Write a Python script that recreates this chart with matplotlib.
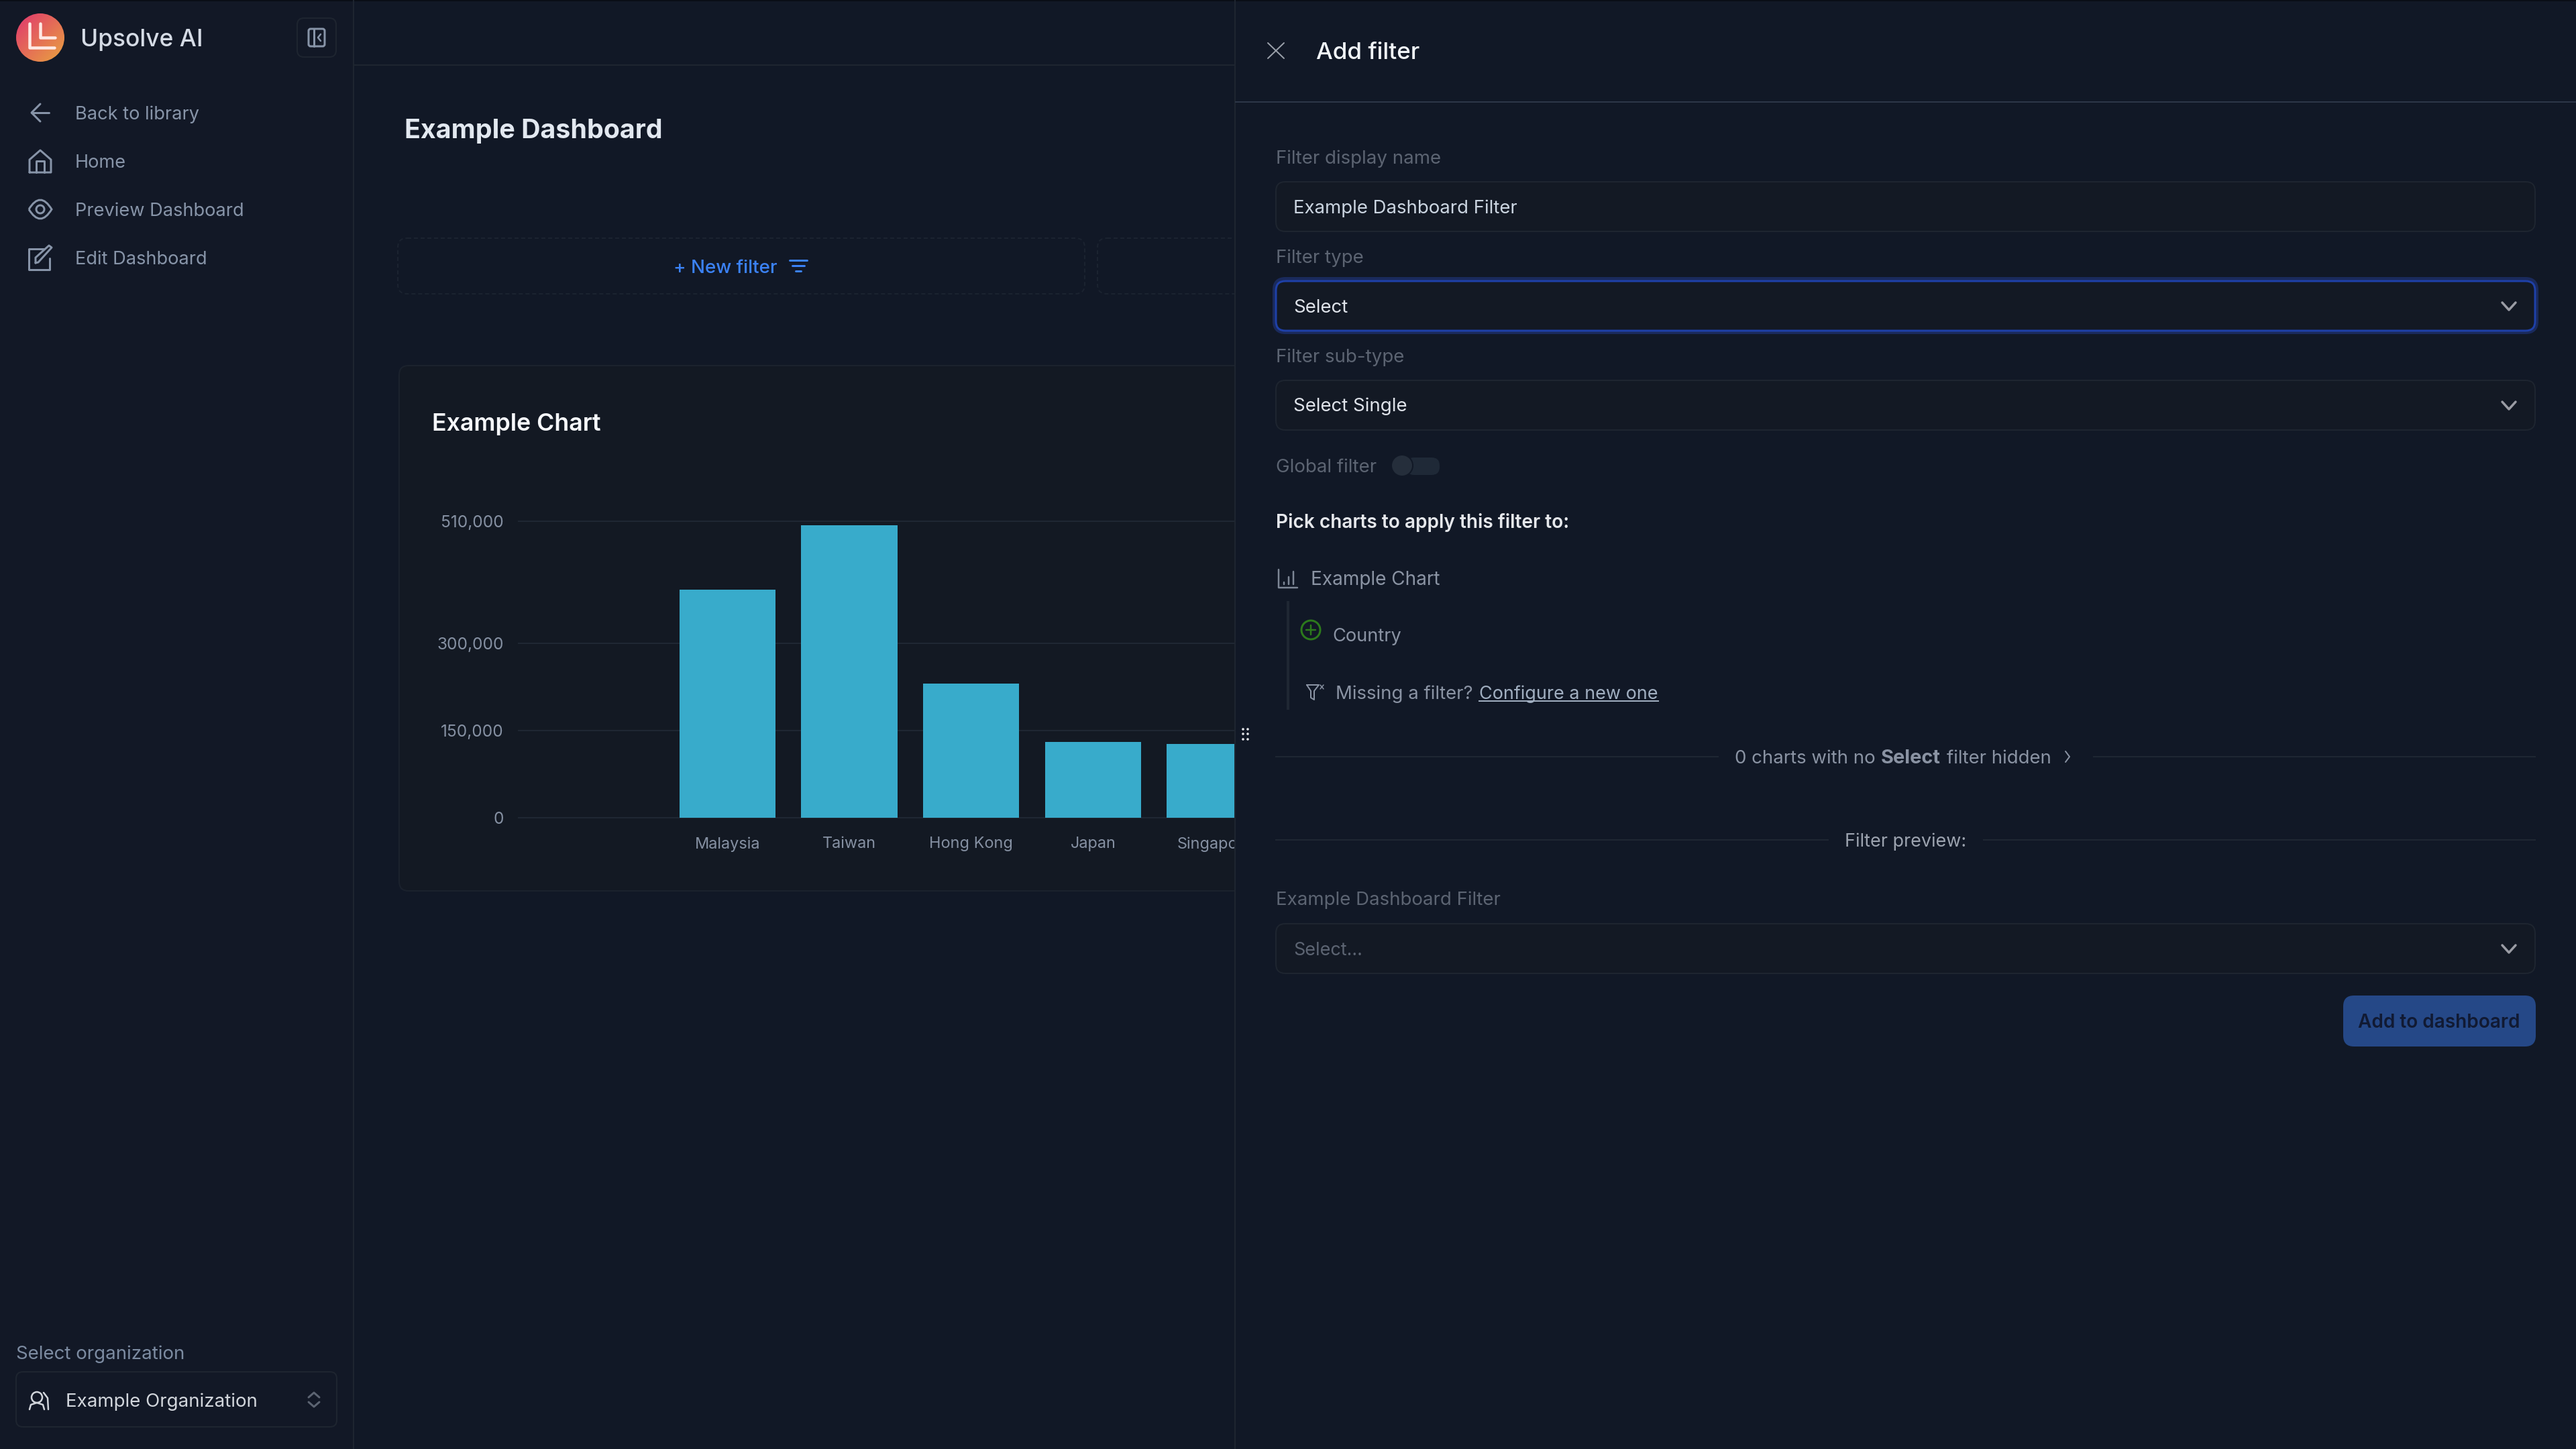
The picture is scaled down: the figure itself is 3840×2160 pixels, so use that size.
# dashboard screenshot with the add filter panel open
import numpy as np
import matplotlib
matplotlib.use("Agg")
import matplotlib.pyplot as plt
from matplotlib.colors import LinearSegmentedColormap
from matplotlib.patches import FancyBboxPatch, Circle, PathPatch
from matplotlib.path import Path

plt.rcParams['font.family'] = ['Inter', 'DejaVu Sans']

# chart data
countries = ['Malaysia', 'Taiwan', 'Hong Kong', 'Japan', 'Singapore']
values = [392000, 503000, 231000, 130000, 127000]
y_ticks = [0, 150000, 300000, 510000]

# text in the page
nav_items = ['Back to library', 'Home', 'Preview Dashboard', 'Edit Dashboard']
nav_rows = [168, 240, 312, 384]

W, H = 3840, 2160
PX = 0.72  # one output pixel in points at dpi 100

SIDEBAR = '#121826'
MAIN = '#111826'
CARD = '#131923'
FIELD = '#131924'
EDGE = '#1e2530'
BAR = '#38abcb'
LABEL = '#5c6472'
NAV = '#8794a8'

fig = plt.figure(figsize=(W / 100, H / 100), dpi=100, facecolor=MAIN)


def page_axes(z):
    ax = fig.add_axes([0, 0, 1, 1], zorder=z)
    ax.set_xlim(0, W)
    ax.set_ylim(H, 0)
    ax.axis('off')
    return ax


back = page_axes(0)
front = page_axes(2)


def txt(ax, x, y, s, px, color, weight='normal', ha='left'):
    return ax.text(x, y, s, fontsize=px * PX, color=color, fontweight=weight,
                   ha=ha, va='center_baseline')


def box(ax, x0, y0, x1, y1, r, fill='none', edge='none', lw=2.0, ls='solid'):
    p = FancyBboxPatch((x0, y0), x1 - x0, y1 - y0, boxstyle=f'round,pad=0,rounding_size={r}',
                       facecolor=fill, edgecolor=edge, linewidth=lw * PX, linestyle=ls)
    ax.add_patch(p)
    return p


def stroke(ax, xs, ys, color, lw=3.0):
    ax.plot(xs, ys, color=color, lw=lw * PX, solid_capstyle='round', solid_joinstyle='round')


def chevron(ax, x, y, color='#9a9ca4'):
    stroke(ax, [x - 10, x, x + 10], [y - 5, y + 6, y - 5], color, 3.5)


# page background
back.fill_between([0, 527], 0, H, color=SIDEBAR, lw=0)
back.fill_between([0, W], 0, 2, color='#0a0e16', lw=0)
back.plot([527, 527], [0, H], color='#1e2530', lw=2 * PX)
back.plot([527, 1840], [97, 97], color='#1e2530', lw=2 * PX)

# logo
grad = np.add.outer(np.linspace(0, 1, 80), np.linspace(0, 1, 80)) / 2
logo_cmap = LinearSegmentedColormap.from_list('logo', ['#e0366f', '#e9a43f'])
im = back.imshow(grad, cmap=logo_cmap, extent=[24, 96, 92, 20], aspect='auto', zorder=2)
im.set_clip_path(Circle((60, 56), 36, transform=back.transData))
back.set_xlim(0, W)
back.set_ylim(H, 0)
stroke(back, [44, 44, 81], [35, 71, 71], '#ffe9e4', 4.5)
stroke(back, [60, 60, 82], [35, 56, 56], '#ffe9e4', 4.5)
txt(back, 120, 56, 'Upsolve AI', 35.4, '#d5dbe5', 'medium')

# collapse button
box(back, 443, 27, 501, 85, 10, edge='#1e2530')
box(back, 460, 43, 484, 69, 3, edge=NAV, lw=3)
stroke(back, [468, 468], [43, 69], NAV, 3)
stroke(back, [478, 474, 478], [51, 56, 61], NAV, 2.5)

# nav
for label, row in zip(nav_items, nav_rows):
    txt(back, 112, row, label, 27.2, NAV)
stroke(back, [73, 47], [168, 168], NAV)
stroke(back, [60, 47, 60], [155, 168, 181], NAV)
stroke(back, [44, 44, 60, 76, 76, 44], [257, 238, 224, 238, 257, 257], NAV)
stroke(back, [54, 54, 66, 66], [257, 240, 240, 257], NAV)
eye = Path([(43, 312), (60, 284), (77, 312), (60, 340), (43, 312)],
           [Path.MOVETO, Path.CURVE3, Path.CURVE3, Path.CURVE3, Path.CURVE3])
back.add_patch(PathPatch(eye, facecolor='none', edgecolor=NAV, lw=3 * PX))
back.add_patch(Circle((60, 312), 6, facecolor='none', edgecolor=NAV, lw=3 * PX))
stroke(back, [65, 43, 43, 74, 74], [371, 371, 402, 402, 385], NAV)
stroke(back, [53, 53, 73, 77, 57, 53], [392, 384, 366, 369, 391, 392], NAV)

# organization picker
txt(back, 24, 2016, 'Select organization', 27.7, '#7c8ba1')
box(back, 24, 2045, 502, 2127, 10, edge='#1e2530')
back.add_patch(Circle((55, 2083), 8, facecolor='none', edgecolor='#d1d5db', lw=2.5 * PX))
stroke(back, [44, 46, 55, 64, 66], [2101, 2094, 2091, 2094, 2101], '#d1d5db', 2.5)
stroke(back, [65, 71, 72], [2076, 2084, 2101], '#d1d5db', 2.5)
txt(back, 98, 2087, 'Example Organization', 27.7, '#d1d5db')
stroke(back, [460, 468, 476], [2083, 2076, 2083], '#5c6472')
stroke(back, [460, 468, 476], [2090, 2097, 2090], '#5c6472')

# dashboard header
txt(back, 603, 191, 'Example Dashboard', 39.4, '#e2e8f0', 'bold')
box(back, 593, 355, 1617, 438, 14, edge='#1b2330', ls=(0, (3, 2)))
box(back, 1636, 355, 1900, 438, 14, edge='#1b2330', ls=(0, (3, 2)))
txt(back, 1004, 397, '+ New filter', 27.8, '#3b82f6', 'medium')
for half, y in zip([13, 9, 4], [388, 396, 404]):
    stroke(back, [1190 - half, 1190 + half], [y, y], '#3b82f6')

# card behind the chart
box(back, 595, 545, 1900, 1328, 14, fill=CARD, edge='#1b222d')
txt(back, 644, 629, 'Example Chart', 35.7, '#f6f8fb', 'semibold')

# the chart itself, the panel hides what runs past x=1840
ax = fig.add_axes([773 / W, 1 - 1219 / H, (1840 - 773) / W, (1219 - 777) / H], zorder=1)
ax.patch.set_visible(False)
x = np.arange(len(countries))
ax.bar(x, values, width=0.79, color=BAR, zorder=3)
ax.set_xlim(-1.715, 4.16)
ax.set_ylim(0, 510000)
ax.set_xticks(x, countries)
ax.set_yticks(y_ticks, [f'{v:,}' for v in y_ticks])
ax.tick_params(length=0)
ax.tick_params(axis='x', pad=20.5, labelsize=23.5 * PX, labelcolor='#8590a2')
ax.tick_params(axis='y', pad=16, labelsize=24.5 * PX, labelcolor='#8590a2')
ax.grid(axis='y', color='#1f2733', lw=2 * PX, zorder=1)
for line in ax.get_ygridlines():
    line.set_clip_on(False)
for sp in ax.spines.values():
    sp.set_visible(False)

# add filter panel
front.fill_between([1840, W], 0, H, color=MAIN, lw=0)
front.fill_between([1840, W], 0, 2, color='#0a0e16', lw=0)
front.plot([1841, 1841], [0, H], color='#1e2530', lw=2 * PX)
front.plot([1842, W], [152, 152], color='#2d3748', lw=2 * PX)
stroke(front, [1890, 1914], [64, 87], '#9aa0aa', 2)
stroke(front, [1914, 1890], [64, 87], '#9aa0aa', 2)
txt(front, 1962, 76, 'Add filter', 35, '#f1f5f9', 'medium')

txt(front, 1902, 234, 'Filter display name', 27.7, LABEL)
box(front, 1902, 271, 3779, 345, 14, fill=FIELD, edge=EDGE)
txt(front, 1928, 308, 'Example Dashboard Filter', 27.6, '#cbd5e1')

txt(front, 1902, 382, 'Filter type', 27.7, LABEL)
box(front, 1900, 416, 3781, 495, 16, edge='#1a2a5c', lw=6)
box(front, 1902, 419, 3779, 493, 14, fill=FIELD, edge='#1e40a8', lw=3)
txt(front, 1928, 456, 'Select', 27.6, '#dfe3ea')
chevron(front, 3740, 456)

txt(front, 1902, 530, 'Filter sub-type', 27.7, LABEL)
box(front, 1902, 567, 3779, 641, 14, fill=FIELD, edge=EDGE)
txt(front, 1928, 603, 'Select Single', 27.6, '#dfe3ea')
chevron(front, 3740, 604)

txt(front, 1902, 694, 'Global filter', 27.7, LABEL)
box(front, 2096, 682, 2146, 708, 12, fill='#1f2937')
front.add_patch(Circle((2090, 694), 16, facecolor='#252e3b', edgecolor=MAIN, lw=2 * PX))

txt(front, 1902, 776, 'Pick charts to apply this filter to:', 28.1, '#e5e7eb', 'semibold')

# chart row and its small icons
stroke(front, [1906, 1906, 1934], [849, 876, 876], '#7d8796', 2.5)
for bx, by in zip([1914, 1921, 1928], [868, 860, 852]):
    stroke(front, [bx, bx], [by, 871], '#7d8796', 2.5)
txt(front, 1954, 862, 'Example Chart', 28, '#8a93a3')
front.plot([1920, 1920], [898, 1056], color='#1f2733', lw=4 * PX)
front.add_patch(Circle((1954, 939), 14, facecolor='none', edgecolor='#2c7a1c', lw=3 * PX))
stroke(front, [1947, 1961], [939, 939], '#2c7a1c', 2.5)
stroke(front, [1954, 1954], [932, 946], '#2c7a1c', 2.5)
txt(front, 1986, 946, 'Country', 27.2, '#8a93a3')
stroke(front, [1948, 1966, 1959, 1959, 1954, 1954, 1948], [1021, 1021, 1030, 1043, 1040, 1030, 1021],
       '#8a93a3', 2)
stroke(front, [1968, 1973], [1021, 1027], '#8a93a3', 1.5)
stroke(front, [1973, 1968], [1021, 1027], '#8a93a3', 1.5)
txt(front, 1991, 1032, 'Missing a filter?', 27.6, '#8a93a3')
txt(front, 2205, 1032, 'Configure a new one', 27, '#a0aec0')
front.plot([2205, 2472], [1045, 1045], color='#a0aec0', lw=2 * PX)

# dividers with a caption in the middle
front.plot([1902, 2561], [1128, 1128], color='#1f2733', lw=2 * PX)
front.plot([3121, 3779], [1128, 1128], color='#1f2733', lw=2 * PX)
txt(front, 2586, 1128, '0 charts with no', 27.6, '#8a93a3')
txt(front, 2804, 1128, 'Select', 29, '#8a93a3', 'bold')
txt(front, 2902, 1128, 'filter hidden', 27.6, '#8a93a3')
stroke(front, [3079, 3085, 3079], [1120, 1128, 1136], '#8a93a3', 2)
front.plot([1902, 2725], [1252, 1252], color='#1f2733', lw=2 * PX)
front.plot([2957, 3779], [1252, 1252], color='#1f2733', lw=2 * PX)
txt(front, 2750, 1252, 'Filter preview:', 27, '#9ca3af')

txt(front, 1902, 1339, 'Example Dashboard Filter', 27.7, LABEL)
box(front, 1902, 1377, 3779, 1451, 14, fill=FIELD, edge=EDGE)
txt(front, 1928, 1414, 'Select...', 27, LABEL)
chevron(front, 3740, 1414)

box(front, 3493, 1484, 3780, 1560, 16, fill='#254887')
txt(front, 3636, 1522, 'Add to dashboard', 28, '#111a33', 'semibold', ha='center')

# drag handle on the panel edge
for hx in [1853, 1860]:
    for hy in [1087, 1094, 1102]:
        front.add_patch(Circle((hx, hy), 1.8, facecolor='#e5e7eb', edgecolor='none'))

fig.savefig('out.png', dpi=100, facecolor=MAIN)
